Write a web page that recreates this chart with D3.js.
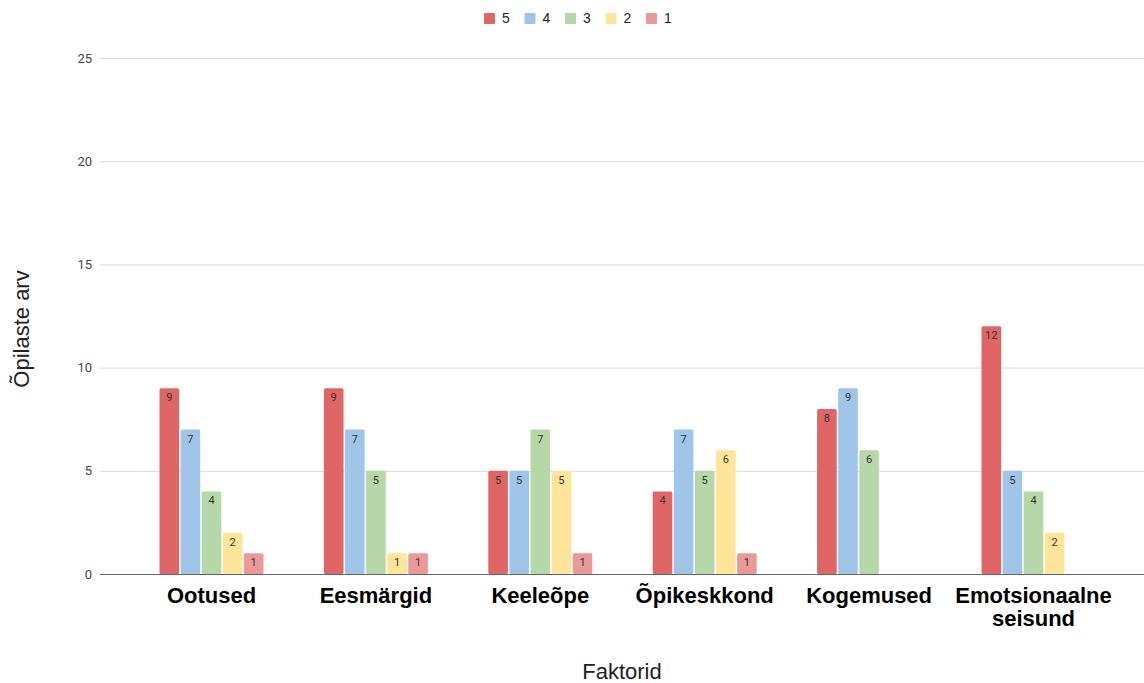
<!DOCTYPE html>
<html><head><meta charset="utf-8">
<script src="https://cdn.jsdelivr.net/npm/d3@7"></script>
<style>body{margin:0;background:#fff}svg{display:block}</style>
</head><body>
<svg id="c" width="1144" height="683"></svg>
<script>
const categories = ["Ootused","Eesmärgid","Keeleõpe","Õpikeskkond","Kogemused","Emotsionaalne seisund"];
const seriesNames = ["5","4","3","2","1"];
const s5 = [9,9,5,4,8,12];
const s4 = [7,7,5,7,9,5];
const s3 = [4,5,7,5,6,4];
const s2 = [2,1,5,6,0,2];
const s1 = [1,1,1,1,0,0];
const yTicks = [0,5,10,15,20,25];
const colors = ["#e06666","#9fc5e8","#b6d7a8","#ffe599","#ea9999"];

const seriesVals = [s5,s4,s3,s2,s1];
const svg = d3.select("#c");
const x0 = d3.scaleBand().domain(categories).range([129.3,1115.7]).paddingInner(0).paddingOuter(0);
const x1 = d3.scaleBand().domain(seriesNames).range([0,104]).paddingInner(0.07).paddingOuter(0);
const y = d3.scaleLinear().domain([0,25]).range([574,58]);
const off = (x0.bandwidth()-104)/2;

// gridlines
const yAxis = d3.axisLeft(y).tickValues(yTicks).tickSize(-1044).tickPadding(8);
const ga = svg.append("g").attr("transform","translate(100,0)").call(yAxis);
ga.select(".domain").remove();
ga.selectAll(".tick line").attr("stroke", d=> d===0 ? "#666" : "#d9d9d9").attr("stroke-width",1);
ga.selectAll(".tick text").attr("fill","#444").style("font-family","Roboto, Arial, sans-serif").style("font-size","13px");
const groups = svg.append("g");
categories.forEach((c,ci)=>{
  seriesNames.forEach((s,si)=>{
    const v = seriesVals[si][ci];
    if(!v) return;
    const bx = x0(c)+off+x1(s);
    const by = y(v);
    groups.append("rect").attr("x",bx).attr("y",by).attr("width",x1.bandwidth()).attr("height",y(0)-by)
      .attr("rx",1.5).attr("fill",colors[si]);
    groups.append("text").attr("x",bx+x1.bandwidth()/2).attr("y",by+13).attr("text-anchor","middle")
      .attr("fill","#333").style("font-family","Roboto, Arial, sans-serif").style("font-size","11px").text(v);
  });
});
svg.append("line").attr("x1",100).attr("x2",1144).attr("y1",y(0)+0.5).attr("y2",y(0)+0.5).attr("stroke","#666");

// x axis labels
const xl = svg.append("g");
categories.forEach(c=>{
  const words = c.split(" ");
  const lines = words.length>1 ? words : [c];
  const t = xl.append("text").attr("x",x0(c)+x0.bandwidth()/2).attr("y",603).attr("text-anchor","middle")
    .attr("fill","#000").style("font-family","'Liberation Sans', Arial, sans-serif").style("font-size","22px").style("font-weight","bold");
  lines.forEach((l,i)=>t.append("tspan").attr("x",x0(c)+x0.bandwidth()/2).attr("dy",i?23:0).text(l));
});

svg.append("text").attr("x",622).attr("y",679).attr("text-anchor","middle").attr("fill","#222")
  .style("font-family","'Liberation Sans', Arial, sans-serif").style("font-size","22px").text("Faktorid");
svg.append("text").attr("transform","translate(29,329) rotate(-90)").attr("text-anchor","middle").attr("fill","#222")
  .style("font-family","'Liberation Sans', Arial, sans-serif").style("font-size","22px").text("Õpilaste arv");

// legend
const lg = svg.append("g");
const lx = d3.scalePoint().domain(seriesNames).range([484,646]);
seriesNames.forEach((s,i)=>{
  lg.append("rect").attr("x",lx(s)).attr("y",13).attr("width",11).attr("height",11).attr("rx",1).attr("fill",colors[i]);
  lg.append("text").attr("x",lx(s)+18).attr("y",23).attr("fill","#222")
    .style("font-family","'Liberation Sans', Arial, sans-serif").style("font-size","14px").text(s);
});
</script>
</body></html>
